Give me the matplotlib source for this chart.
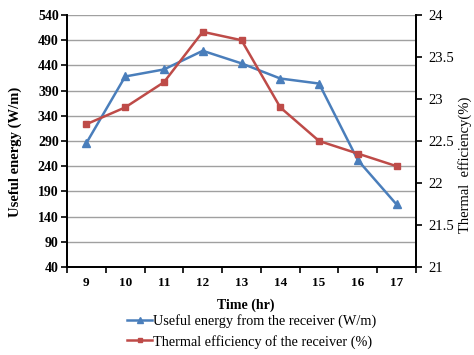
import numpy as np
import matplotlib.pyplot as plt

plt.rcParams['font.family'] = ['Liberation Serif', 'DejaVu Serif']

hours = [9, 10, 11, 12, 13, 14, 15, 16, 17]
useful_energy = [286, 418, 432, 469, 444, 414, 404, 252, 164]
thermal_eff = [22.7, 22.9, 23.2, 23.8, 23.7, 22.9, 22.5, 22.35, 22.2]

blue = '#4A7EBB'
red = '#BE4B48'

fig = plt.figure(figsize=(4.74, 3.55), dpi=100)
ax = fig.add_axes([0.1414, 0.248, 0.7362, 0.7097])
ax2 = ax.twinx()

l1, = ax.plot(hours, useful_energy, color=blue, lw=1.8, marker='^', ms=5.5,
              label='Useful energy from the receiver (W/m)')
l2, = ax2.plot(hours, thermal_eff, color=red, lw=1.8, marker='s', ms=4,
               label='Thermal efficiency of the receiver (%)')

ax.set_xlim(8.5, 17.5)
ax.set_ylim(40, 540)
ax.set_yticks(np.arange(40, 541, 50))
ax2.set_ylim(21, 24)
ax2.set_yticks([21, 21.5, 22, 22.5, 23, 23.5, 24])
ax2.set_yticklabels(['21', '21.5', '22', '22.5', '23', '23.5', '24'])

ax.set_xticks(hours)
ax.set_xticks(np.arange(8.5, 17.6, 1), minor=True)
ax.tick_params(axis='x', which='major', length=0, pad=7, labelsize=9.5)
ax.tick_params(axis='x', which='minor', length=4, width=1.2, direction='out')
ax.tick_params(axis='y', length=4, width=1.2, labelsize=10, pad=2)
ax2.tick_params(axis='y', length=4, width=1.2, labelsize=10.5, pad=5)
for lab in ax.get_xticklabels() + ax.get_yticklabels():
    lab.set_fontweight('bold')

ax.yaxis.grid(True, color='#A0A0A0', lw=1)
ax.set_axisbelow(True)

for a in (ax, ax2):
    a.spines['top'].set_visible(False)
    for s in ('left', 'bottom', 'right'):
        a.spines[s].set_linewidth(1.3)

fig.text(246 / 474, 1 - 305 / 355, 'Time (hr)', fontsize=10, fontweight='bold',
         ha='center', va='center')
fig.text(15 / 474, 1 - 152 / 355, 'Useful energy (W/m)', fontsize=10.5,
         fontweight='bold', rotation=90, ha='center', va='center')
fig.text(465 / 474, 1 - 165 / 355, 'Thermal  efficiency(%)', fontsize=10.5,
         rotation=90, ha='center', va='center')

fig.legend(handles=[l1, l2], loc='upper left', bbox_to_anchor=(0.268, 0.115),
           frameon=False, fontsize=10.3, handlelength=1.75, handletextpad=0.05,
           labelspacing=0.45, borderaxespad=0, borderpad=0, markerscale=0.8)

fig.savefig('out.png', dpi=100)
